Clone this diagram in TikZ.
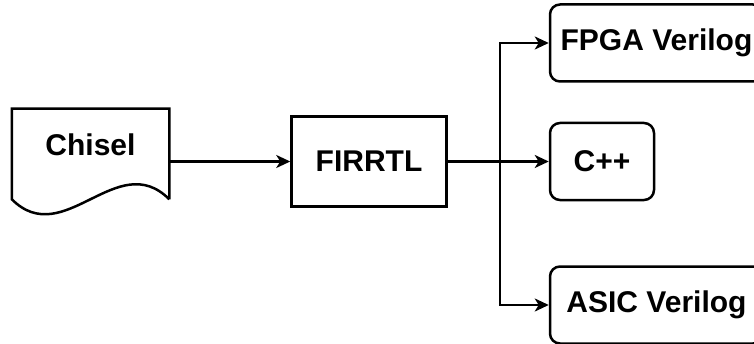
\documentclass[tikz,border=0pt]{standalone}
\usepackage{fontspec}
\setmainfont{Liberation Sans}
\usetikzlibrary{arrows.meta, positioning, calc}

\begin{document}
\begin{tikzpicture}[
  x=1pt, y=1pt,
  node distance=121pt,
  base/.style={draw=black, line width=2.5pt, align=center, inner sep=0pt,
               font=\bfseries\fontsize{30}{35}\selectfont},
  doc/.style={base, draw=none, minimum width=155pt, minimum height=103pt},
  box/.style={base, minimum width=155pt, minimum height=90pt},
  rbox/.style={base, rounded corners=10pt, minimum width=104pt, minimum height=77pt},
  wbox/.style={rbox, minimum width=213pt},
  arr/.style={-{Stealth[length=14pt, width=13pt, inset=4pt]}, line width=2.5pt}
]
\useasboundingbox (0,0) rectangle (754,343);
\clip (0,0) rectangle (754,343);
\node[doc, label={[base, draw=none, yshift=16.5pt]center:Chisel}] (chisel) at (90.5,181.5) {};
\node[box, right=of chisel] (firrtl) {FIRRTL};
\node[rbox, right=101pt of firrtl] (cpp) {C++};
\node[wbox, above=39pt of cpp.north west, anchor=south west] (fpga) {FPGA Verilog};
\node[wbox, below=64pt of cpp.south west, anchor=north west] (asic) {ASIC Verilog};
% document outline with wavy bottom
\draw[line width=2.5pt] ([yshift=15pt]chisel.south east) -- (chisel.north east)
  -- (chisel.north west) -- ([yshift=15pt]chisel.south west)
  .. controls +(52,-52) and +(-52,52) .. ([yshift=15pt]chisel.south east);
\draw[arr] (chisel) -- (firrtl);
\draw[arr] (firrtl) -- (cpp);
\coordinate (split) at ($(firrtl.east)+(52,0)$);
\draw[arr] (split) |- (fpga);
\draw[arr] (split) |- (asic);
\end{tikzpicture}
\end{document}
